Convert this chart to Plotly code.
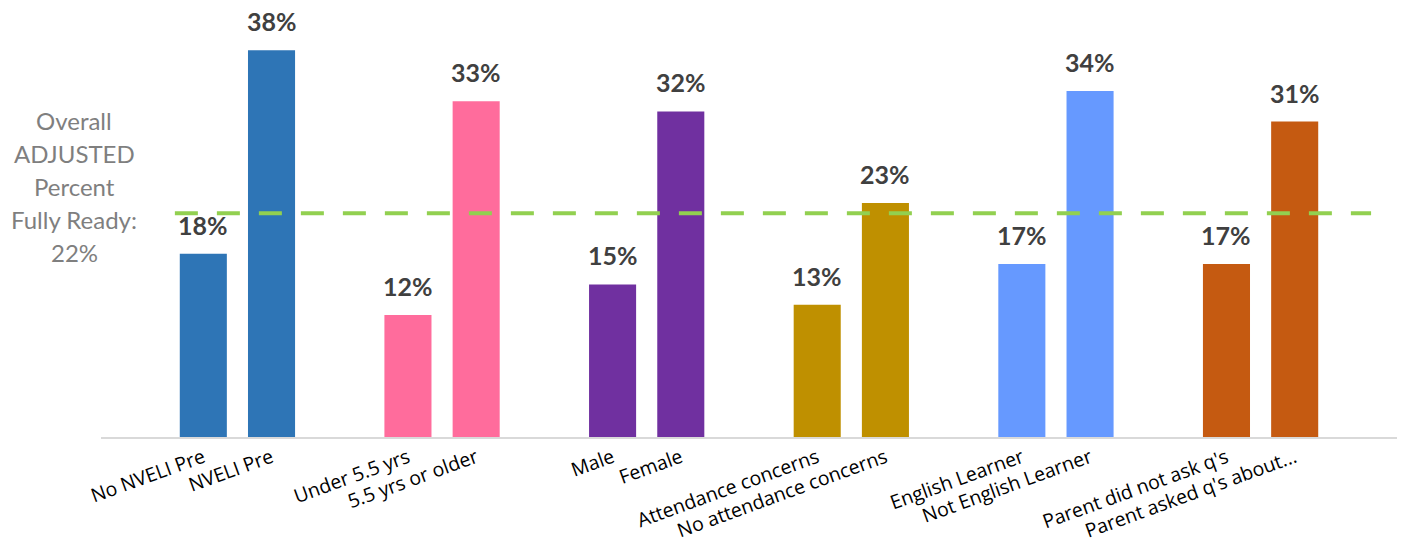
import plotly.graph_objects as go

categories = ["No NVELI Pre", "NVELI Pre",
              "Under 5.5 yrs", "5.5 yrs or older",
              "Male", "Female",
              "Attendance concerns", "No attendance concerns",
              "English Learner", "Not English Learner",
              "Parent did not ask q's", "Parent asked q's about..."]
values = [0.18, 0.38, 0.12, 0.33, 0.15, 0.32, 0.13, 0.23, 0.17, 0.34, 0.17, 0.31]
colors = ["#2E75B6", "#2E75B6", "#FF6C9C", "#FF6C9C", "#7030A0", "#7030A0",
          "#BF9000", "#BF9000", "#6699FF", "#6699FF", "#C55A11", "#C55A11"]
overall = 0.22
overall_lines = ["Overall", "ADJUSTED", "Percent", "Fully Ready:", "22%"]

# slot layout: one blank slot before each pair of bars, and one at the end
positions = [1 + 3 * (i // 2) + (i % 2) for i in range(len(categories))]
n_slots = 3 * (len(categories) // 2) + 1

fig = go.Figure()
fig.add_trace(go.Bar(
    x=positions, y=values, width=0.69,
    marker=dict(color=colors, line=dict(width=0)),
    hoverinfo="skip",
))

for p, v in zip(positions, values):
    fig.add_annotation(x=p, y=v, xref="x", yref="y", text=f"<b>{v*100:.0f}%</b>",
                       showarrow=False, yanchor="bottom", yshift=12,
                       font=dict(family="Lato", size=25, color="#404040"))

fig.add_shape(type="line", xref="paper", yref="y", x0=0.057, x1=0.98,
              y0=overall, y1=overall,
              line=dict(color="#92D050", width=4, dash="23px,19px"))

for i, t in enumerate(overall_lines):
    fig.add_annotation(xref="paper", yref="y", x=-0.0205, y=overall, text=t,
                       showarrow=False, xanchor="center", yanchor="middle",
                       yshift=(3 - i) * 33 - 6,
                       font=dict(family="Lato", size=24, color="#7F7F7F"))

fig.update_layout(
    width=1404, height=548,
    margin=dict(l=101, r=7, t=30, b=111, autoexpand=False),
    paper_bgcolor="white", plot_bgcolor="white",
    showlegend=False,
    font=dict(family="Open Sans", size=20, color="#000000"),
    xaxis=dict(range=[-0.5, n_slots - 0.5], tickvals=positions, ticktext=categories,
               tickangle=-20, showgrid=False, zeroline=False, automargin=False,
               showline=True, linecolor="#D9D9D9", linewidth=2,
               ticks="", ticklen=0,
               tickfont=dict(family="Open Sans", size=19.5, color="#000000")),
    yaxis=dict(range=[0, 0.40], showgrid=False, zeroline=False, showline=False,
               showticklabels=False, automargin=False),
)

fig.write_html("out.html", config={"displayModeBar": False},
               post_script="document.body.style.margin='0';document.body.style.overflow='hidden';")
